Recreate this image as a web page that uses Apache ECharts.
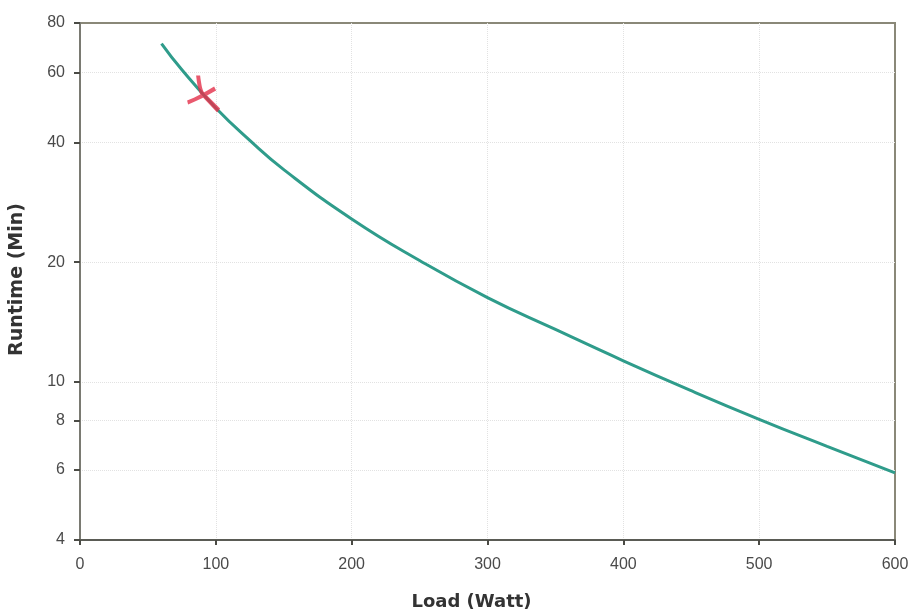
<!DOCTYPE html>
<html>
<head>
<meta charset="utf-8">
<script src="https://cdn.jsdelivr.net/npm/echarts@6/dist/echarts.min.js"></script>
<style>
  html, body { margin: 0; padding: 0; background: #fff; }
  #chart { width: 913px; height: 616px; }
</style>
</head>
<body>
<div id="chart"></div>
<script>
// load (W) vs runtime (min)
const loadWatts = [60, 75, 100, 125, 150, 200, 250, 300, 350, 400, 450, 500, 550, 600]
const runtimeMin = [71, 61, 48.9, 40.5, 34.2, 25.7, 20.2, 16.3, 13.55, 11.3, 9.5, 8.05, 6.88, 5.9]
// hand-drawn red mark on the curve
const markPoint = [91, 53]
const yTicks = [4, 6, 8, 10, 20, 40, 60, 80]

const chart = echarts.init(document.getElementById('chart'))

const labelFont = { color: '#4a4a4a', fontSize: 16, fontFamily: 'Liberation Sans, Arial, sans-serif' }
const nameFont = { color: '#333', fontWeight: 'bold', fontFamily: 'DejaVu Sans, sans-serif' }

chart.setOption({
  animation: false,
  grid: {
    left: 79, right: 18, top: 23, bottom: 76,
    show: true,
    borderColor: '#8a8878',
    borderWidth: 2,
    backgroundColor: '#fff'
  },
  xAxis: {
    type: 'value',
    min: 0, max: 600, interval: 100,
    name: 'Load (Watt)',
    nameLocation: 'middle',
    nameGap: 53,
    nameTextStyle: Object.assign({ fontSize: 18, padding: [0, 32, 0, 0] }, nameFont),
    axisLine: { lineStyle: { color: '#5a5b55', width: 2 } },
    axisTick: { show: true, length: 5, lineStyle: { color: '#4a4b45', width: 2 } },
    axisLabel: Object.assign({ margin: 17 }, labelFont),
    splitLine: { show: true, showMinLine: false, showMaxLine: false, lineStyle: { color: '#e2e2e2', type: 'dotted', width: 1 } }
  },
  yAxis: {
    type: 'log',
    logBase: 10,
    min: 4, max: 80,
    name: 'Runtime (Min)',
    nameLocation: 'middle',
    nameGap: 53,
    nameTextStyle: Object.assign({ fontSize: 19, padding: [0, 0, 0, 4] }, nameFont),
    axisLine: { show: true, lineStyle: { color: '#7a7a72', width: 2 } },
    axisTick: { show: true, length: 6, customValues: yTicks, lineStyle: { color: '#4a4b45', width: 2 } },
    axisLabel: Object.assign({ margin: 15, customValues: yTicks }, labelFont),
    splitLine: { show: true, showMinLine: false, showMaxLine: false, lineStyle: { color: '#e2e2e2', type: 'dotted', width: 1 } },
    minorTick: { show: false },
    minorSplitLine: { show: false }
  },
  series: [
    {
      type: 'line',
      data: loadWatts.map((w, i) => [w, runtimeMin[i]]),
      smooth: true,
      showSymbol: false,
      lineStyle: { color: '#2f9c8b', width: 3 }
    },
    {
      type: 'scatter',
      data: [markPoint],
      symbol: 'path://M9,0 L13,0 C14,8 15,14 17,17 L33,33 L30,37 L14,20 C11,16 10,8 9,0 Z M0,25 C9,22 18,16 27,11 L29,15 C20,20 11,25 1,29 Z',
      symbolSize: [33, 37],
      itemStyle: { color: '#e3304a' },
      z: 5
    }
  ]
})
</script>
</body>
</html>
